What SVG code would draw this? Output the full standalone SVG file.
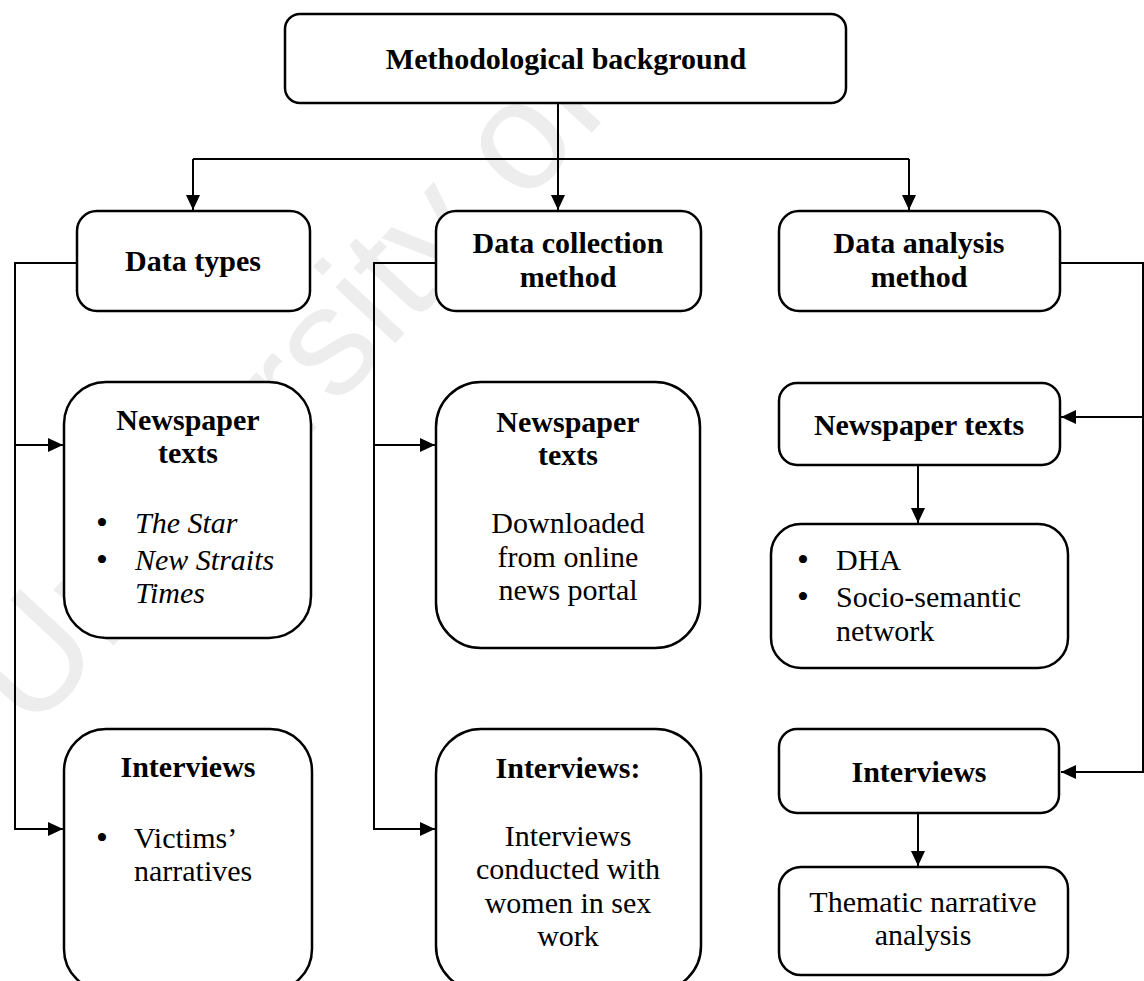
<svg xmlns="http://www.w3.org/2000/svg" width="1144" height="981" viewBox="0 0 1144 981">
<defs>
<style>
.box{fill:#fff;stroke:#000;stroke-width:2.5}
.ln{fill:none;stroke:#000;stroke-width:2}
text{font-family:"Liberation Serif","Times New Roman",serif;font-size:30px;fill:#000}
.b{font-weight:bold}
.c{text-anchor:middle}
.i{font-style:italic}
.bul{font-size:34px}
.wm{font-family:"Liberation Sans",Arial,sans-serif;font-size:155px;fill:#ededed}
</style>
<marker id="arr" markerUnits="userSpaceOnUse" markerWidth="16" markerHeight="14" refX="15" refY="7" orient="auto">
<path d="M0,0 L15,7 L0,14 z" fill="#000"/>
</marker>
</defs>
<rect width="1144" height="981" fill="#fff"/>
<text class="wm" x="30" y="735" transform="rotate(-47 30 735)">University of</text>

<g id="connectors">
<path class="ln" d="M558,103 V210" marker-end="url(#arr)"/>
<path class="ln" d="M193,159 H909"/>
<path class="ln" d="M193,159 V210" marker-end="url(#arr)"/>
<path class="ln" d="M909,159 V210" marker-end="url(#arr)"/>
<path class="ln" d="M77,263 H15 V829 H63" marker-end="url(#arr)"/>
<path class="ln" d="M15,445 H63" marker-end="url(#arr)"/>
<path class="ln" d="M436,263 H374 V829 H435" marker-end="url(#arr)"/>
<path class="ln" d="M374,445 H435" marker-end="url(#arr)"/>
<path class="ln" d="M1060,263 H1143 V772 H1061" marker-end="url(#arr)"/>
<path class="ln" d="M1143,417 H1061" marker-end="url(#arr)"/>
<path class="ln" d="M918,465 V523" marker-end="url(#arr)"/>
<path class="ln" d="M918,813 V866" marker-end="url(#arr)"/>
</g>

<g id="title">
<rect class="box" x="285" y="14" width="561" height="89" rx="15"/>
<text class="b c" x="566" y="69">Methodological background</text>
</g>

<g id="data-types">
<rect class="box" x="77" y="211" width="233" height="100" rx="20"/>
<text class="b c" x="193" y="271">Data types</text>
</g>

<g id="data-collection">
<rect class="box" x="436" y="211" width="265" height="100" rx="20"/>
<text class="b c" x="568" y="253">Data collection</text>
<text class="b c" x="568" y="287">method</text>
</g>

<g id="data-analysis">
<rect class="box" x="779" y="211" width="281" height="100" rx="20"/>
<text class="b c" x="919" y="253">Data analysis</text>
<text class="b c" x="919" y="287">method</text>
</g>

<g id="types-newspaper">
<rect class="box" x="64" y="382" width="247" height="256" rx="42"/>
<text class="b c" x="188" y="430">Newspaper</text>
<text class="b c" x="188" y="463">texts</text>
<text class="bul" x="96" y="534">•</text>
<text class="i" x="135" y="533">The Star</text>
<text class="bul" x="96" y="571">•</text>
<text class="i" x="135" y="570">New Straits</text>
<text class="i" x="135" y="603">Times</text>
</g>

<g id="types-interviews">
<rect class="box" x="64" y="729" width="248" height="262" rx="42"/>
<text class="b c" x="188" y="777">Interviews</text>
<text class="bul" x="96" y="849">•</text>
<text x="134" y="848">Victims’</text>
<text x="134" y="881">narratives</text>
</g>

<g id="collection-newspaper">
<rect class="box" x="436" y="382" width="264" height="266" rx="45"/>
<text class="b c" x="568" y="432">Newspaper</text>
<text class="b c" x="568" y="465">texts</text>
<text class="c" x="568" y="533">Downloaded</text>
<text class="c" x="568" y="567">from online</text>
<text class="c" x="568" y="600">news portal</text>
</g>

<g id="collection-interviews">
<rect class="box" x="436" y="729" width="265" height="262" rx="45"/>
<text class="b c" x="568" y="778">Interviews:</text>
<text class="c" x="568" y="846">Interviews</text>
<text class="c" x="568" y="879">conducted with</text>
<text class="c" x="568" y="913">women in sex</text>
<text class="c" x="568" y="946">work</text>
</g>

<g id="analysis-newspaper">
<rect class="box" x="779" y="383" width="281" height="82" rx="18"/>
<text class="b c" x="919" y="435">Newspaper texts</text>
</g>

<g id="analysis-dha">
<rect class="box" x="771" y="524" width="297" height="144" rx="30"/>
<text class="bul" x="797" y="571">•</text>
<text x="836" y="570">DHA</text>
<text class="bul" x="797" y="608">•</text>
<text x="836" y="607">Socio-semantic</text>
<text x="836" y="641">network</text>
</g>

<g id="analysis-interviews">
<rect class="box" x="779" y="729" width="280" height="84" rx="18"/>
<text class="b c" x="919" y="782">Interviews</text>
</g>

<g id="analysis-thematic">
<rect class="box" x="779" y="867" width="289" height="108" rx="22"/>
<text class="c" x="923" y="912">Thematic narrative</text>
<text class="c" x="923" y="945">analysis</text>
</g>
</svg>
